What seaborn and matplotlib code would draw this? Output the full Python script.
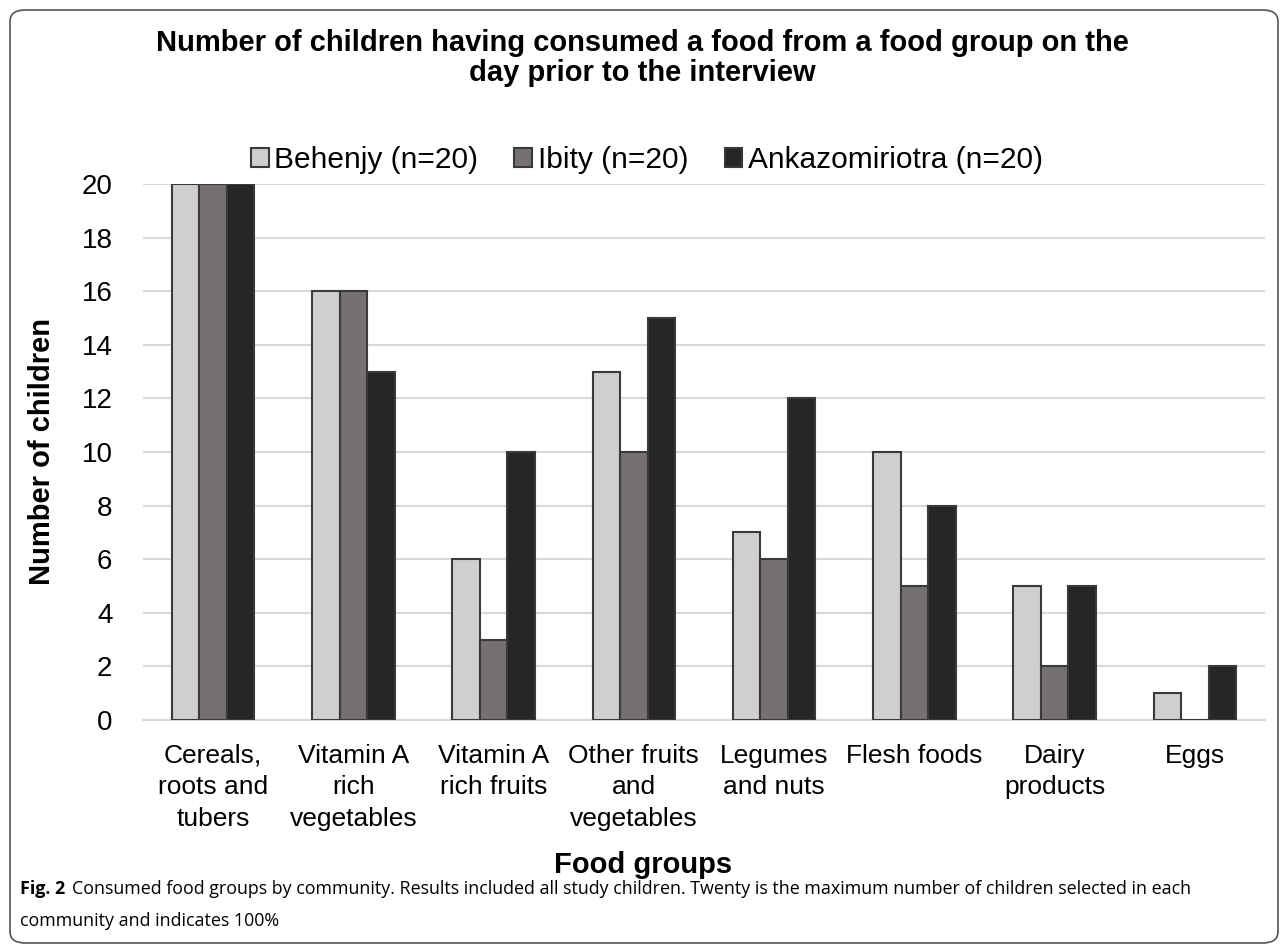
import matplotlib
matplotlib.use("Agg")
import matplotlib.pyplot as plt
from matplotlib.patches import FancyBboxPatch
import seaborn as sns
import pandas as pd

categories = ["Cereals,\nroots and\ntubers", "Vitamin A\nrich\nvegetables", "Vitamin A\nrich fruits",
              "Other fruits\nand\nvegetables", "Legumes\nand nuts", "Flesh foods", "Dairy\nproducts", "Eggs"]
series = ["Behenjy (n=20)", "Ibity (n=20)", "Ankazomiriotra (n=20)"]
behenjy = [20, 16, 6, 13, 7, 10, 5, 1]
ibity = [20, 16, 3, 10, 6, 5, 2, 0]
ankazo = [20, 13, 10, 15, 12, 8, 5, 2]
yticks = list(range(0, 21, 2))
colors = ["#d0cece", "#767171", "#262626"]

rows = []
for s, vals in zip(series, [behenjy, ibity, ankazo]):
    for c, v in zip(categories, vals):
        rows.append({"cat": c, "series": s, "value": v})
df = pd.DataFrame(rows)

sns.set_theme(style="white")
plt.rcParams['font.family'] = ['Liberation Sans', 'DejaVu Sans']
plt.rcParams['text.color'] = 'black'
plt.rcParams['xtick.color'] = 'black'
plt.rcParams['ytick.color'] = 'black'
plt.rcParams['axes.labelcolor'] = 'black'

fig = plt.figure(figsize=(12.85, 9.51), dpi=100)
ax = fig.add_axes([143/1285, 1-720/951, (1265-143)/1285, (720-184)/951])

sns.barplot(data=df, x="cat", y="value", hue="series", palette=colors, ax=ax,
            width=0.59, edgecolor="#3a3a3a", linewidth=1.5, saturation=1, zorder=3)

ax.set_ylim(0, 20)
ax.set_xlim(-0.5, 7.5)
ax.set_yticks(yticks)
ax.set_yticklabels([str(t) for t in yticks], fontsize=20)
ax.tick_params(axis='x', labelsize=19, length=0, pad=17)
ax.tick_params(axis='y', length=0, pad=22)
ax.yaxis.grid(True, color="#d9d9d9", linewidth=1.5, zorder=0)
for sp in ["top", "right", "left"]:
    ax.spines[sp].set_visible(False)
ax.spines["bottom"].set_color("#d9d9d9")
ax.spines["bottom"].set_linewidth(1.5)
for lbl in ax.get_xticklabels():
    lbl.set_linespacing(1.4)

ax.set_xlabel("")
ax.set_ylabel("Number of children", fontsize=21, fontweight="bold")
ax.yaxis.set_label_coords(-(143-56)/(1265-143), 0.5)

fig.text(643/1285, 1-873/951, "Food groups", ha="center", va="baseline",
         fontsize=21, fontweight="bold")

handles, labels = ax.get_legend_handles_labels()
ax.legend(handles, labels, loc="center", bbox_to_anchor=(647/1285, 1-160/951),
          bbox_transform=fig.transFigure, ncol=3, frameon=False, fontsize=21.5,
          handlelength=0.6, handleheight=0.6, handletextpad=0.2, columnspacing=1.2)

fig.text(642/1285, 1-58/951, "Number of children having consumed a food from a food group on the\nday prior to the interview",
         ha="center", va="center", fontsize=21, fontweight="bold", linespacing=1.1)

border = FancyBboxPatch((10/1285, 8/951), 1268/1285, 1-18/951, transform=fig.transFigure,
                        boxstyle="round,pad=0,rounding_size=0.012", facecolor="none",
                        edgecolor="#555555", linewidth=1.2)
fig.patches.append(border)

cap_fs = 12.9
fig.text(20/1285, 1-889/951, "Fig. 2", fontsize=cap_fs, fontweight="bold", va="center", ha="left", family="Open Sans")
fig.text(72/1285, 1-889/951, "Consumed food groups by community. Results included all study children. Twenty is the maximum number of children selected in each",
         fontsize=cap_fs, va="center", ha="left", family="Open Sans")
fig.text(20/1285, 1-921/951, "community and indicates 100%", fontsize=cap_fs, va="center", ha="left", family="Open Sans")

fig.savefig("out.png", dpi=100)
